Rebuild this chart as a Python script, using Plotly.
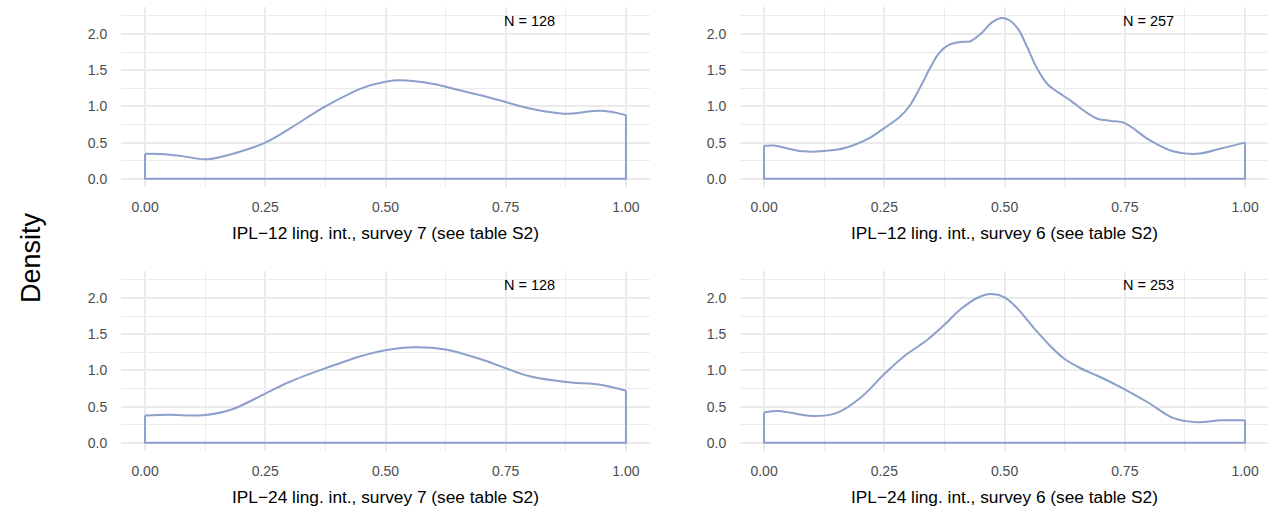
import plotly.graph_objects as go

# ---------------- data ----------------
x_tl = [0.0, 0.04, 0.08, 0.13, 0.2, 0.25, 0.3, 0.375, 0.45, 0.5, 0.53, 0.6, 0.65, 0.7, 0.75, 0.8, 0.87, 0.95, 1.0]
y_tl = [0.345, 0.34, 0.31, 0.27, 0.38, 0.50, 0.69, 1.0, 1.25, 1.34, 1.36, 1.31, 1.23, 1.15, 1.06, 0.97, 0.90, 0.94, 0.88]

x_tr = [0.0, 0.02, 0.08, 0.15, 0.18, 0.221, 0.25, 0.283, 0.304, 0.325, 0.346, 0.363, 0.384, 0.408, 0.429,
        0.45, 0.474, 0.495, 0.5125, 0.53, 0.547, 0.568, 0.589, 0.61, 0.6375, 0.665, 0.693, 0.721, 0.75,
        0.8, 0.85, 0.9, 0.95, 1.0]
y_tr = [0.455, 0.46, 0.38, 0.40, 0.45, 0.57, 0.70, 0.86, 1.02, 1.27, 1.54, 1.73, 1.85, 1.89, 1.90,
        2.0, 2.16, 2.22, 2.18, 2.05, 1.82, 1.52, 1.31, 1.20, 1.08, 0.94, 0.83, 0.80, 0.77,
        0.54, 0.38, 0.345, 0.42, 0.50]

x_bl = [0.0, 0.05, 0.12, 0.18, 0.25, 0.3, 0.375, 0.45, 0.5, 0.56, 0.625, 0.7, 0.75, 0.8, 0.875, 0.95, 1.0]
y_bl = [0.377, 0.386, 0.38, 0.46, 0.68, 0.84, 1.03, 1.20, 1.28, 1.32, 1.29, 1.15, 1.03, 0.92, 0.84, 0.80, 0.72]

x_br = [0.0, 0.03, 0.1, 0.15, 0.2, 0.25, 0.29, 0.339, 0.375, 0.408, 0.443, 0.472, 0.5, 0.526, 0.561,
        0.596, 0.625, 0.658, 0.693, 0.735, 0.8, 0.85, 0.9, 0.95, 1.0]
y_br = [0.42, 0.44, 0.37, 0.41, 0.62, 0.95, 1.19, 1.42, 1.63, 1.84, 2.0, 2.055, 2.01, 1.86, 1.585,
        1.33, 1.157, 1.03, 0.926, 0.79, 0.55, 0.345, 0.285, 0.31, 0.31]

titles = ["IPL\u221212 ling. int., survey 7 (see table S2)",
          "IPL\u221212 ling. int., survey 6 (see table S2)",
          "IPL\u221224 ling. int., survey 7 (see table S2)",
          "IPL\u221224 ling. int., survey 6 (see table S2)"]
n_labels = ["N = 128", "N = 257", "N = 128", "N = 253"]
x_ticks = [0.0, 0.25, 0.5, 0.75, 1.0]
y_ticks = [0.0, 0.5, 1.0, 1.5, 2.0]

# ---------------- layout geometry ----------------
W, H = 1268, 508
LINE = "#8DA0CB"
GRID = "#EBEBEB"
FONT = "Liberation Sans, Arial, sans-serif"

def px_x(p):
    return p / W

def px_y(p):
    return 1 - p / H

panels = [
    (x_tl, y_tl, (121, 650), (7, 187)),
    (x_tr, y_tr, (740, 1268), (7, 187)),
    (x_bl, y_bl, (121, 650), (271, 451)),
    (x_br, y_br, (740, 1268), (271, 451)),
]

fig = go.Figure()
layout = dict(
    width=W, height=H, margin=dict(l=0, r=0, t=0, b=0),
    paper_bgcolor="white", plot_bgcolor="white", showlegend=False,
    font=dict(family=FONT, color="black"),
)
annotations = []

for i, (xs, ys, (xl, xr), (yt, yb)) in enumerate(panels):
    k = "" if i == 0 else str(i + 1)
    xa, ya = "x" + k, "y" + k
    # density curve
    fig.add_trace(go.Scatter(x=xs, y=ys, mode="lines", xaxis=xa, yaxis=ya,
                             line=dict(color=LINE, width=2, shape="spline", smoothing=1.0),
                             hoverinfo="skip"))
    # closing outline (ends down to zero and baseline)
    fig.add_trace(go.Scatter(x=[xs[-1], xs[-1], xs[0], xs[0]], y=[ys[-1], 0, 0, ys[0]],
                             mode="lines", xaxis=xa, yaxis=ya,
                             line=dict(color=LINE, width=2), hoverinfo="skip"))
    xr_range = [-0.05, 1.05] if xr - xl >= 529 else [-0.05, -0.05 + (xr - xl) / 481.0]
    layout["xaxis" + k] = dict(
        domain=[px_x(xl), px_x(xr)], range=xr_range, anchor=ya,
        tickvals=x_ticks, ticktext=[f"{v:.2f}" for v in x_ticks],
        ticks="outside", ticklen=7, tickcolor="rgba(0,0,0,0)",
        tickfont=dict(size=14, color="#4D4D4D", family=FONT),
        showgrid=True, gridcolor=GRID, gridwidth=2, zeroline=False, showline=False,
        minor=dict(tickvals=[0.125, 0.375, 0.625, 0.875], showgrid=True, gridcolor=GRID, gridwidth=1),
        fixedrange=True,
    )
    layout["yaxis" + k] = dict(
        domain=[px_y(yb), px_y(yt)], range=[-0.113, 2.373], anchor=xa,
        tickvals=y_ticks, ticktext=[f"{v:.1f}" for v in y_ticks],
        ticks="outside", ticklen=10, tickcolor="rgba(0,0,0,0)",
        tickfont=dict(size=14, color="#4D4D4D", family=FONT),
        showgrid=True, gridcolor=GRID, gridwidth=2, zeroline=False, showline=False,
        minor=dict(tickvals=[0.25, 0.75, 1.25, 1.75, 2.25], showgrid=True, gridcolor=GRID, gridwidth=1),
        fixedrange=True,
    )
    # x axis title
    cx = (xl + 24 + xl + 24 + 481) / 2.0
    annotations.append(dict(text=titles[i], xref="paper", yref="paper",
                            x=px_x(cx), y=px_y(yb + 46), xanchor="center", yanchor="middle",
                            showarrow=False, font=dict(size=17.3, color="black", family=FONT)))
    # N label
    annotations.append(dict(text=n_labels[i], xref=xa, yref=ya, x=0.8, y=2.18,
                            xanchor="center", yanchor="middle", showarrow=False,
                            font=dict(size=14.5, color="black", family=FONT)))

annotations.append(dict(text="Density", xref="paper", yref="paper", x=px_x(31), y=px_y(258),
                        xanchor="center", yanchor="middle", textangle=-90, showarrow=False,
                        font=dict(size=27, color="black", family=FONT)))
layout["annotations"] = annotations
fig.update_layout(**layout)

fig.write_html("out.html", config={"displayModeBar": False, "staticPlot": True},
               post_script="document.body.style.margin='0';document.body.style.overflow='hidden';")
